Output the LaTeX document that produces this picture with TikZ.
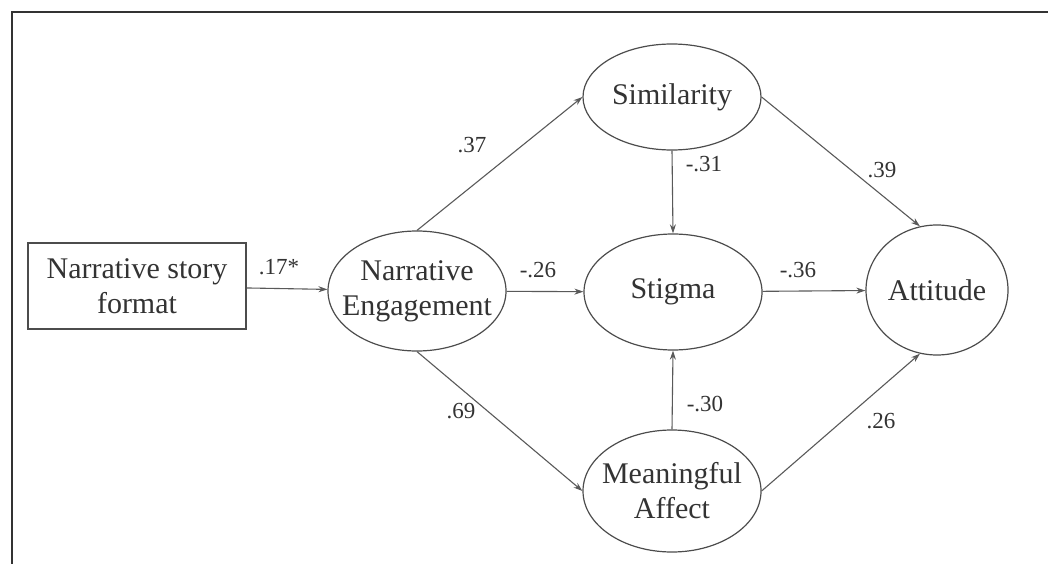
\documentclass[tikz,border=0pt]{standalone}
\usepackage{fontspec}
\setmainfont{Liberation Serif}
\usetikzlibrary{shapes.geometric,arrows.meta}
\begin{document}
\begin{tikzpicture}[x=1pt,y=-1pt,
  lv/.style={ellipse,draw=black!70,line width=1.2pt,inner sep=0pt,text=black!80,align=center,font=\fontsize{30}{35}\selectfont},
  tight/.style={inner xsep=-14pt},
  bx/.style={rectangle,draw=black!70,line width=1.6pt,inner sep=0pt,text=black!80,align=center,font=\fontsize{30}{35}\selectfont},
  path/.style={draw=black!65,line width=1.1pt,-{Stealth[length=9pt,width=6pt]}},
  lab/.style={text=black!80,font=\fontsize{23}{27}\selectfont,inner sep=0pt}]
\useasboundingbox (0,0) rectangle (1048,564);
\draw[black!80,line width=2pt] (12,564) -- (12,12) -- (1048,12);
\node[bx,minimum width=218,minimum height=86] (fmt) at (137,286) {Narrative story\\format};
\node[lv,tight,minimum width=178,minimum height=120] (ne) at (417,291) {Narrative\\Engagement};
\node[lv,minimum width=178,minimum height=106] (sim) at (672,97) {Similarity};
\node[lv,minimum width=178,minimum height=116] (stg) at (673,292) {Stigma};
\node[lv,tight,minimum width=178,minimum height=122] (ma) at (672,491) {Meaningful\\Affect};
\node[lv,minimum width=142,minimum height=130] (att) at (937,290) {Attitude};
\draw[path] (fmt) -- (ne);
\draw[path] (ne.north) -- (sim.west);
\draw[path] (ne) -- (stg);
\draw[path] (ne.south) -- (ma.west);
\draw[path] (sim.south) -- (stg.north);
\draw[path] (ma.north) -- (stg.south);
\draw[path] (sim.east) -- (att.105);
\draw[path] (stg) -- (att);
\draw[path] (ma.east) -- (att.255);
\node[lab] (l1) at (279,267) {.17*};
\node[lab] (l2) at (472,145) {.37};
\node[lab] (l3) at (538,270) {-.26};
\node[lab] (l4) at (461,411) {.69};
\node[lab] (l5) at (704,164) {-.31};
\node[lab] (l6) at (705,404) {-.30};
\node[lab] (l7) at (798,270) {-.36};
\node[lab] (l8) at (882,170) {.39};
\node[lab] (l9) at (881,421) {.26};
\end{tikzpicture}
\end{document}
